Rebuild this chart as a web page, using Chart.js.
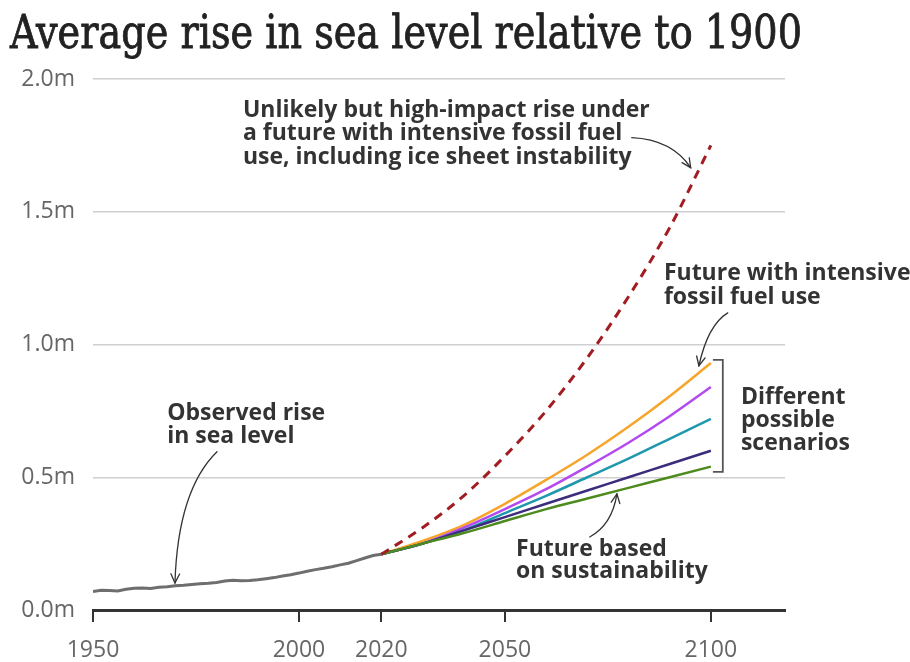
<!DOCTYPE html>
<html>
<head>
<meta charset="utf-8">
<script src="https://cdn.jsdelivr.net/npm/chart.js@4.4.1/dist/chart.umd.min.js"></script>
<style>
  html, body { margin: 0; padding: 0; background: #fff; }
  #seaChart { display: block; }
</style>
</head>
<body>
<canvas id="seaChart" width="910" height="662"></canvas>
<script>
// observed global mean sea level (m, relative to 1900)
const obsYears = [1950, 1952, 1954, 1956, 1958, 1960, 1962, 1964, 1966, 1968,
    1970, 1972, 1974, 1976, 1978, 1980, 1982, 1984, 1986, 1988,
    1990, 1992, 1994, 1996, 1998, 2000, 2002, 2004, 2006, 2008,
    2010, 2012, 2014, 2016, 2018, 2020];
const observed = [0.070, 0.074, 0.073, 0.072, 0.078, 0.082, 0.083, 0.081, 0.086, 0.088,
    0.091, 0.093, 0.096, 0.099, 0.101, 0.104, 0.109, 0.112, 0.110, 0.111,
    0.114, 0.118, 0.122, 0.128, 0.133, 0.139, 0.146, 0.152, 0.157, 0.163,
    0.170, 0.176, 0.186, 0.196, 0.205, 0.210];

// projections, one value per decade
const projYears = [2020, 2030, 2040, 2050, 2060, 2070, 2080, 2090, 2100];
const highImpact   = [0.21, 0.31, 0.43, 0.58, 0.75, 0.95, 1.18, 1.44, 1.75];
const veryHigh     = [0.21, 0.26, 0.32, 0.40, 0.49, 0.585, 0.69, 0.805, 0.93];
const high         = [0.21, 0.25, 0.31, 0.38, 0.455, 0.54, 0.63, 0.73, 0.84];
const intermediate = [0.21, 0.25, 0.30, 0.365, 0.43, 0.50, 0.57, 0.645, 0.72];
const low          = [0.21, 0.25, 0.30, 0.35, 0.40, 0.45, 0.50, 0.55, 0.60];
const veryLow      = [0.21, 0.25, 0.29, 0.335, 0.38, 0.42, 0.46, 0.50, 0.54];

const xTicks = [1950, 2000, 2020, 2050, 2100];
const yTicks = [0, 0.5, 1.0, 1.5, 2.0];

const TITLE = 'Average rise in sea level relative to 1900';
const TITLE_WIDTH = 792;
const NOTE_FONT = 'bold 23px "Open Sans", sans-serif';
const NOTE_COLOR = '#333';

function toPoints(xs, ys) {
    return xs.map((x, i) => ({ x: x, y: ys[i] }));
}

function projection(label, values, color) {
    return {
        label: label,
        data: toPoints(projYears, values),
        borderColor: color,
        borderWidth: 2.5,
        pointRadius: 0,
        cubicInterpolationMode: 'monotone',
        fill: false
    };
}

// text blocks and arrows, anchored in data units (year, metres)
const notes = [
    { x: 1986.4, y: 1.858, lh: 23.5, lines: ['Unlikely but high-impact rise under', 'a future with intensive fossil fuel', 'use, including ice sheet instability'] },
    { x: 1968.0, y: 0.716, lh: 23, lines: ['Observed rise', 'in sea level'] },
    { x: 2088.6, y: 1.244, lh: 24, lines: ['Future with intensive', 'fossil fuel use'] },
    { x: 2107.3, y: 0.776, lh: 23, lines: ['Different', 'possible', 'scenarios'] },
    { x: 2052.7, y: 0.204, lh: 22, lines: ['Future based', 'on sustainability'] }
];

const arrows = [
    { from: [2080.8, 1.779], ctrl: [2090.5, 1.772], to: [2095.1, 1.666] },
    { from: [2104.1, 1.119], ctrl: [2099.3, 1.074], to: [2097.1, 0.920] },
    { from: [1980.1, 0.596], ctrl: [1970.6, 0.452], to: [1969.9, 0.102] },
    { from: [2070.6, 0.275], ctrl: [2076.0, 0.320], to: [2077.2, 0.437] }
];

const bracket = { x0: 2100.5, x1: 2102.9, top: 0.942, bottom: 0.520 };

const backgroundAndTitle = {
    id: 'backgroundAndTitle',
    beforeDraw(chart) {
        const ctx = chart.ctx;
        ctx.save();
        ctx.fillStyle = '#fff';
        ctx.fillRect(0, 0, chart.width, chart.height);
        // size the serif headline so it runs across the plot width,
        // then stretch it upward for a taller, condensed look
        ctx.font = '36px "DejaVu Serif", serif';
        const size = 36 * TITLE_WIDTH / ctx.measureText(TITLE).width;
        ctx.font = size.toFixed(1) + 'px "DejaVu Serif", serif';
        ctx.fillStyle = '#222';
        ctx.strokeStyle = '#222';
        ctx.lineWidth = 0.7;
        ctx.textBaseline = 'alphabetic';
        ctx.translate(10, 48);
        ctx.scale(1, 1.22);
        ctx.fillText(TITLE, 0, 0);
        ctx.strokeText(TITLE, 0, 0);
        ctx.restore();
    }
};

const annotations = {
    id: 'annotations',
    afterDatasetsDraw(chart) {
        const ctx = chart.ctx;
        const sx = chart.scales.x, sy = chart.scales.y;
        const px = v => sx.getPixelForValue(v);
        const py = v => sy.getPixelForValue(v);
        ctx.save();

        ctx.fillStyle = NOTE_COLOR;
        ctx.font = NOTE_FONT;
        ctx.textBaseline = 'alphabetic';
        notes.forEach(n => {
            n.lines.forEach((t, i) => ctx.fillText(t, px(n.x), py(n.y) + i * n.lh));
        });

        ctx.strokeStyle = '#333';
        ctx.lineWidth = 1.3;
        ctx.lineCap = 'round';
        arrows.forEach(a => {
            const x0 = px(a.from[0]), y0 = py(a.from[1]);
            const cx = px(a.ctrl[0]), cy = py(a.ctrl[1]);
            const x1 = px(a.to[0]), y1 = py(a.to[1]);
            ctx.beginPath();
            ctx.moveTo(x0, y0);
            ctx.quadraticCurveTo(cx, cy, x1, y1);
            ctx.stroke();
            // open arrow head along the final tangent
            const ang = Math.atan2(y1 - cy, x1 - cx);
            const len = 10, spread = 0.45;
            ctx.beginPath();
            ctx.moveTo(x1 - len * Math.cos(ang - spread), y1 - len * Math.sin(ang - spread));
            ctx.lineTo(x1, y1);
            ctx.lineTo(x1 - len * Math.cos(ang + spread), y1 - len * Math.sin(ang + spread));
            ctx.stroke();
        });

        // bracket grouping the scenario lines
        ctx.strokeStyle = '#555';
        ctx.lineWidth = 1.8;
        ctx.lineCap = 'butt';
        ctx.beginPath();
        ctx.moveTo(px(bracket.x0), py(bracket.top));
        ctx.lineTo(px(bracket.x1), py(bracket.top));
        ctx.lineTo(px(bracket.x1), py(bracket.bottom));
        ctx.lineTo(px(bracket.x0), py(bracket.bottom));
        ctx.stroke();

        ctx.restore();
    }
};

new Chart(document.getElementById('seaChart'), {
    type: 'line',
    data: {
        datasets: [
            {
                label: 'High-impact',
                data: toPoints(projYears, highImpact),
                borderColor: '#a11d22',
                borderWidth: 3,
                borderDash: [9, 7],
                pointRadius: 0,
                cubicInterpolationMode: 'monotone',
                fill: false
            },
            projection('Very low', veryLow, '#4e8b1e'),
            projection('Low', low, '#3d2b7c'),
            projection('Intermediate', intermediate, '#1f98ae'),
            projection('High', high, '#b24af0'),
            projection('Very high', veryHigh, '#f7a52a'),
            {
                label: 'Observed',
                data: toPoints(obsYears, observed),
                borderColor: '#6e6e6e',
                borderWidth: 3,
                pointRadius: 0,
                tension: 0,
                fill: false
            }
        ]
    },
    options: {
        responsive: false,
        animation: false,
        devicePixelRatio: 1,
        layout: { padding: { top: 79, right: 125, bottom: 0, left: 0 } },
        plugins: {
            legend: { display: false },
            tooltip: { enabled: false }
        },
        scales: {
            x: {
                type: 'linear',
                min: 1950,
                max: 2118,
                afterBuildTicks: s => { s.ticks = xTicks.map(v => ({ value: v })); },
                afterFit: s => { s.height = 52; },
                ticks: {
                    autoSkip: false,
                    maxRotation: 0,
                    padding: 15,
                    color: '#666',
                    font: { family: '"Open Sans", sans-serif', size: 23 },
                    callback: v => String(v)
                },
                grid: {
                    drawOnChartArea: false,
                    drawTicks: true,
                    tickLength: 12,
                    color: '#333',
                    lineWidth: 2
                },
                border: { color: '#333', width: 3 }
            },
            y: {
                min: 0,
                max: 2,
                afterBuildTicks: s => { s.ticks = yTicks.map(v => ({ value: v })); },
                afterFit: s => { s.width = 93; },
                ticks: {
                    padding: 18,
                    color: '#666',
                    font: { family: '"Open Sans", sans-serif', size: 23 },
                    callback: v => v.toFixed(1) + 'm'
                },
                grid: { color: '#cfcfcf', lineWidth: 1.5, drawTicks: false },
                border: { display: false }
            }
        }
    },
    plugins: [backgroundAndTitle, annotations]
});
</script>
</body>
</html>
